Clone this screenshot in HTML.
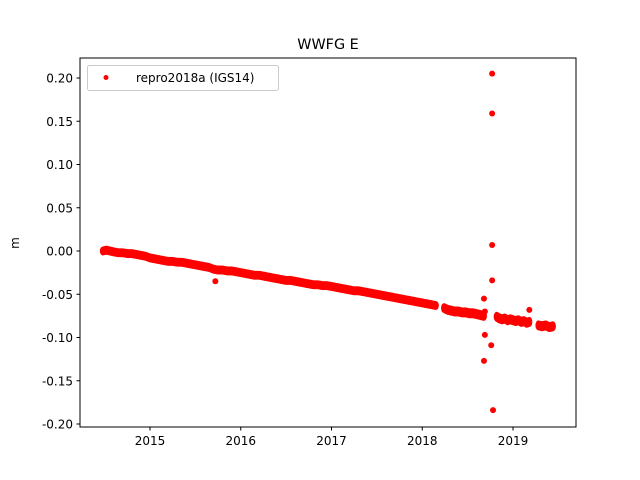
<!DOCTYPE html>
<html><head><meta charset="utf-8"><style>
html,body{margin:0;padding:0;background:#fff;}
svg{display:block;font-family:"DejaVu Sans","Liberation Sans",sans-serif;}
</style></head><body>
<svg id="c" width="640" height="480" viewBox="0 0 640 480">
<rect x="0" y="0" width="640" height="480" fill="#fff"/>
<text x="328" y="49" font-size="14.4" text-anchor="middle">WWFG E</text>
<text x="0" y="0" font-size="12" text-anchor="middle" transform="translate(19,243) rotate(-90)">m</text>
<g id="marks"></g>
<rect x="80" y="58" width="496" height="369" fill="none" stroke="#000" stroke-width="1"/>
<g id="axes"></g>
<g>
<rect x="87.5" y="65.5" width="191" height="25" rx="2" fill="#fff" fill-opacity="0.8" stroke="#ccc"/>
<circle cx="106" cy="77.5" r="2.5" fill="#f00"/>
<text x="136" y="82" font-size="12">repro2018a (IGS14)</text>
</g>
</svg>
<script>
var mainT=[2014.48,2014.52,2014.56,2014.6,2014.65,2014.7,2014.75,2014.8,2014.85,2014.9,2014.95,2015.0,2015.05,2015.1,2015.15,2015.2,2015.25,2015.3,2015.35,2015.4,2015.45,2015.5,2015.55,2015.6,2015.65,2015.7,2015.75,2015.8,2015.85,2015.9,2015.95,2016.0,2016.05,2016.1,2016.15,2016.2,2016.25,2016.3,2016.35,2016.4,2016.45,2016.5,2016.55,2016.6,2016.65,2016.7,2016.75,2016.8,2016.85,2016.9,2016.95,2017.0,2017.05,2017.1,2017.15,2017.2,2017.25,2017.3,2017.35,2017.4,2017.45,2017.5,2017.55,2017.6,2017.65,2017.7,2017.75,2017.8,2017.85,2017.9,2017.95,2018.0,2018.05,2018.1,2018.15];
var mainV=[0.000,0.001,0.000,-0.001,-0.002,-0.002,-0.003,-0.003,-0.004,-0.005,-0.006,-0.008,-0.009,-0.010,-0.011,-0.012,-0.012,-0.013,-0.013,-0.014,-0.015,-0.016,-0.017,-0.018,-0.019,-0.021,-0.022,-0.022,-0.023,-0.023,-0.024,-0.025,-0.026,-0.027,-0.028,-0.028,-0.029,-0.030,-0.031,-0.032,-0.033,-0.034,-0.034,-0.035,-0.036,-0.037,-0.038,-0.039,-0.039,-0.040,-0.040,-0.041,-0.042,-0.043,-0.044,-0.045,-0.046,-0.046,-0.047,-0.048,-0.049,-0.050,-0.051,-0.052,-0.053,-0.054,-0.055,-0.056,-0.057,-0.058,-0.059,-0.060,-0.061,-0.062,-0.063];
var seg2T=[2018.24,2018.28,2018.32,2018.36,2018.4,2018.44,2018.48,2018.52,2018.56,2018.6,2018.64,2018.68,2018.82,2018.85,2018.88,2018.91,2018.94,2018.97,2019.0,2019.03,2019.06,2019.09,2019.12,2019.15,2019.18,2019.28,2019.32,2019.36,2019.4,2019.44];
var seg2V=[-0.066,-0.068,-0.069,-0.070,-0.070,-0.071,-0.071,-0.072,-0.072,-0.073,-0.074,-0.075,-0.076,-0.078,-0.079,-0.078,-0.080,-0.079,-0.080,-0.081,-0.080,-0.082,-0.081,-0.083,-0.082,-0.086,-0.087,-0.086,-0.088,-0.087];
var outT=[2015.72,2018.77,2018.77,2018.77,2018.77,2018.78,2018.68,2018.69,2018.69,2018.68,2018.76,2019.18];
var outV=[-0.035,0.205,0.159,0.007,-0.034,-0.184,-0.055,-0.070,-0.097,-0.127,-0.109,-0.068];
var xTicks=[2015,2016,2017,2018,2019];
var yTicks=[0.20,0.15,0.10,0.05,0.00,-0.05,-0.10,-0.15,-0.20];
function xs(t){return 150+(t-2015)*90.75;}
function ys(v){return 251-v*865;}
var NS="http://www.w3.org/2000/svg";
var marks=document.getElementById('marks'),axes=document.getElementById('axes');
function dot(t,v,ry){var c=document.createElementNS(NS,'ellipse');c.setAttribute('cx',xs(t));c.setAttribute('cy',ys(v));c.setAttribute('rx',3);c.setAttribute('ry',ry);c.setAttribute('fill','#f00');


marks.appendChild(c);}
function fill(T,V,ry){for(var i=0;i<T.length;i++){dot(T[i],V[i],ry);if(i+1<T.length&&T[i+1]-T[i]<0.06){for(var k=1;k<4;k++){var f=k/4;dot(T[i]+(T[i+1]-T[i])*f,V[i]+(V[i+1]-V[i])*f,ry);}}}}
fill(mainT,mainV,4.5);fill(seg2T,seg2V,5);
for(var i=0;i<outT.length;i++)dot(outT[i],outV[i],3);
xTicks.forEach(function(t){var x=xs(t);var l=document.createElementNS(NS,'line');l.setAttribute('x1',x);l.setAttribute('x2',x);l.setAttribute('y1',427);l.setAttribute('y2',430.5);l.setAttribute('stroke','#000');


axes.appendChild(l);
var tx=document.createElementNS(NS,'text');tx.setAttribute('x',x);tx.setAttribute('y',445);tx.setAttribute('font-size','12');tx.setAttribute('text-anchor','middle');tx.textContent=t;


axes.appendChild(tx);});
yTicks.forEach(function(v){var y=ys(v);var l=document.createElementNS(NS,'line');l.setAttribute('x1',76.5);l.setAttribute('x2',80);l.setAttribute('y1',y);l.setAttribute('y2',y);l.setAttribute('stroke','#000');


axes.appendChild(l);
var tx=document.createElementNS(NS,'text');tx.setAttribute('x',73);tx.setAttribute('y',y+4.5);tx.setAttribute('font-size','12');tx.setAttribute('text-anchor','end');tx.textContent=v.toFixed(2);


axes.appendChild(tx);});
</script>
</body></html>
